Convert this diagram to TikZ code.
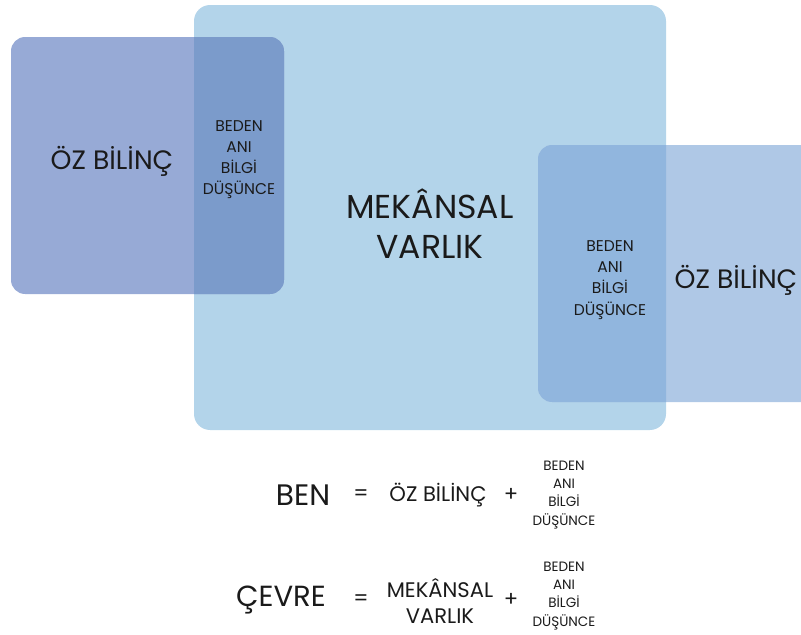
\documentclass[tikz,border=0pt]{standalone}
\usepackage{fontspec}
\setmainfont{Poppins}
\usepackage{tikz}
\definecolor{VBig}{HTML}{B3D4EA}
\definecolor{VLeft}{HTML}{97AAD6}
\definecolor{VLeftMix}{HTML}{7B9BCB}
\definecolor{VRight}{HTML}{AFC8E6}
\definecolor{VRightMix}{HTML}{91B6DE}
\definecolor{VText}{HTML}{1A1A1A}
\tikzset{
  bigtxt/.style={text=VText,align=center,font=\fontsize{33}{40}\selectfont},
  midtxt/.style={text=VText,align=center,font=\fontsize{26.5}{30}\selectfont},
  smalltxt/.style={text=VText,align=center,font=\fontsize{15.5}{21}\selectfont},
  eqtxt/.style={text=VText,align=center,font=\fontsize{21}{26}\selectfont},
  eqsmall/.style={text=VText,align=center,font=\fontsize{13.5}{18}\selectfont}
}

\begin{document}
\begin{tikzpicture}[x=0.035cm,y=-0.035cm]
\path[use as bounding box] (0,0) rectangle (801,635);
% boxes
\fill[VBig,rounded corners=16] (194,5) rectangle (666,430);
\fill[VLeft,rounded corners=14] (11,37) rectangle (284,294);
\fill[VRight,rounded corners=14] (538,145) rectangle (815,402);
\begin{scope}
\clip[rounded corners=16] (194,5) rectangle (666,430);
\fill[VLeftMix,rounded corners=14] (11,37) rectangle (284,294);
\fill[VRightMix,rounded corners=14] (538,145) rectangle (815,402);
\end{scope}
\path[use as bounding box] (0,0) rectangle (801,635);
% box labels
\node[midtxt] (selfL) at (112,161) {ÖZ BİLİNÇ};
\node[smalltxt] (partsL) at (239,160) {BEDEN\\ANI\\BİLGİ\\DÜŞÜNCE};
\node[bigtxt] (space) at (430,224) {MEKÂNSAL\\VARLIK};
\node[smalltxt] (partsR) at (610,280) {BEDEN\\ANI\\BİLGİ\\DÜŞÜNCE};
\node[midtxt] (selfR) at (736,280) {ÖZ BİLİNÇ};
% equations
\node[font=\fontsize{29.5}{30}\selectfont,text=VText] (ben) at (303,495) {BEN};
\node[eqtxt] (eqA) at (361,495) {=};
\node[eqtxt] (benSelf) at (438,495) {ÖZ BİLİNÇ};
\node[eqtxt] (plusA) at (511,495) {+};
\node[eqsmall] (benParts) at (564,495) {BEDEN\\ANI\\BİLGİ\\DÜŞÜNCE};
\node[font=\fontsize{29}{30}\selectfont,text=VText] (cevre) at (281,600) {ÇEVRE};
\node[eqtxt] (eqB) at (361,600) {=};
\node[eqtxt] (cevreSpace) at (440,601) {MEKÂNSAL\\VARLIK};
\node[eqtxt] (plusB) at (511,600) {+};
\node[eqsmall] (cevreParts) at (564,596) {BEDEN\\ANI\\BİLGİ\\DÜŞÜNCE};
\end{tikzpicture}
\end{document}
